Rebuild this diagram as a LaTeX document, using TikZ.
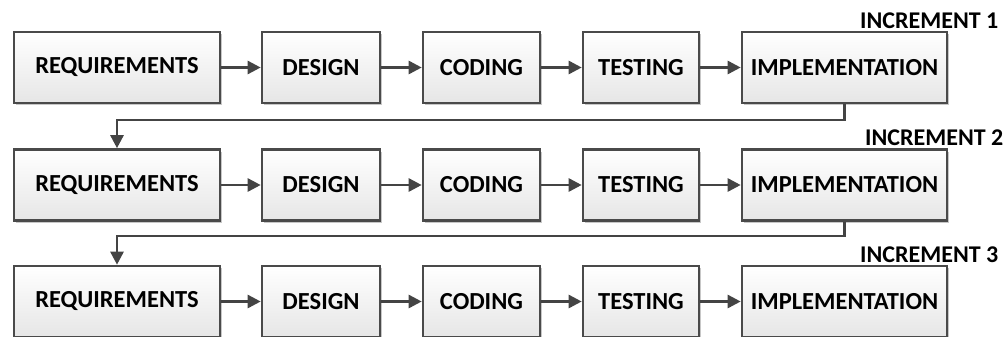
\documentclass[tikz,border=0pt]{standalone}
\usepackage{fontspec}
\setmainfont{Carlito}
\usetikzlibrary{arrows.meta,shadows}
\definecolor{boxline}{HTML}{4A4A4A}
\definecolor{arrowc}{HTML}{444444}
\definecolor{boxbot}{HTML}{E6E6E6}
\tikzset{
  stage/.style={draw=boxline, line width=2.6pt, top color=white, bottom color=boxbot,
    minimum height=71pt, inner sep=0pt, font=\bfseries\fontsize{24.5}{28}\selectfont,
    drop shadow={shadow xshift=2pt, shadow yshift=-2pt, opacity=0.22, fill=black}},
  flow/.style={draw=arrowc, line width=2.6pt, -{Triangle[length=13pt,width=13pt]}},
  inclabel/.style={anchor=west, inner sep=0pt, font=\bfseries\fontsize{24}{28}\selectfont}
}
\begin{document}
\begin{tikzpicture}[x=1pt,y=-1pt]
\useasboundingbox (0,0) rectangle (1007,337);
\foreach \r/\yc in {1/67.5, 2/185, 3/301.5}{
  \node[stage, minimum width=206pt] (req\r) at (117,\yc) {REQUIREMENTS};
  \node[stage, minimum width=118pt] (des\r) at (321,\yc) {DESIGN};
  \node[stage, minimum width=117pt] (cod\r) at (481.5,\yc) {CODING};
  \node[stage, minimum width=116pt] (tes\r) at (641,\yc) {TESTING};
  \node[stage, minimum width=205pt] (imp\r) at (844.5,\yc) {IMPLEMENTATION};
  \draw[flow] (req\r) -- (des\r);
  \draw[flow] (des\r) -- (cod\r);
  \draw[flow] (cod\r) -- (tes\r);
  \draw[flow] (tes\r) -- (imp\r);
}
\node[inclabel] (inc1) at (860,21) {INCREMENT 1};
\node[inclabel] (inc2) at (865,138) {INCREMENT 2};
\node[inclabel] (inc3) at (860,255) {INCREMENT 3};
\draw[flow] (imp1.south) -- ++(0,15.5) -| (req2.north);
\draw[flow] (imp2.south) -- ++(0,14) -| (req3.north);
\end{tikzpicture}
\end{document}
